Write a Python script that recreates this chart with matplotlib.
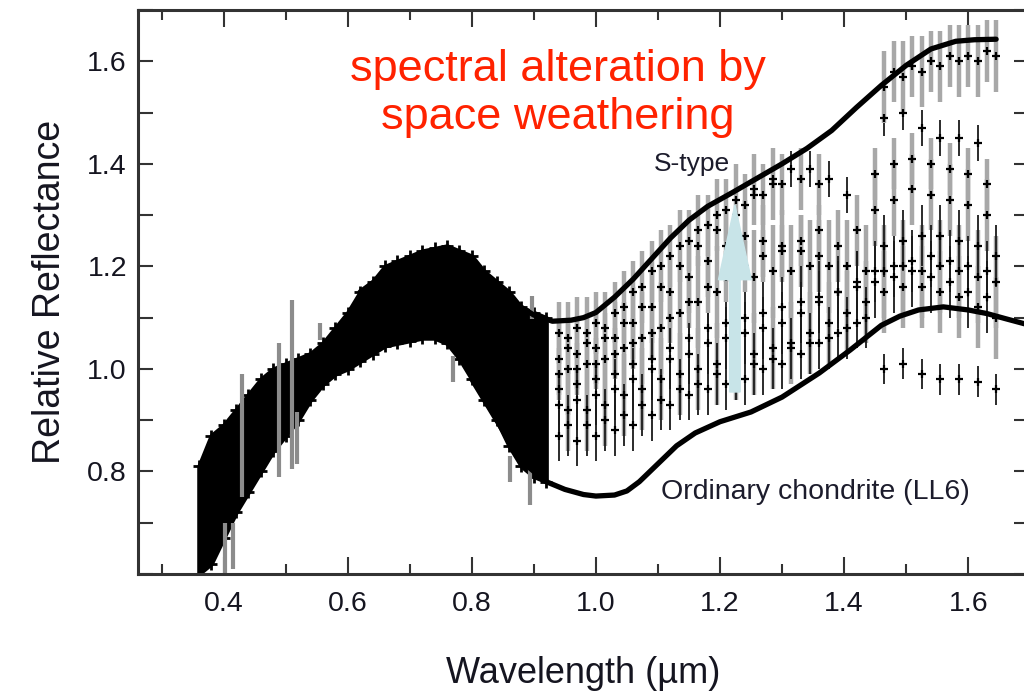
import numpy as np
import matplotlib
matplotlib.use("Agg")
import matplotlib.pyplot as plt
from matplotlib.ticker import MultipleLocator

plt.rcParams['font.family'] = ['Liberation Sans', 'DejaVu Sans']

nan = np.nan

# visible band: lower / upper edge of the dense cloud of points
w_vis = [0.36, 0.38, 0.40, 0.42, 0.44, 0.46, 0.48, 0.50, 0.52, 0.54, 0.56, 0.58, 0.60, 0.62, 0.64,
         0.66, 0.68, 0.70, 0.72, 0.74, 0.76, 0.78, 0.80, 0.82, 0.84, 0.86, 0.88, 0.90, 0.92]
vis_hi = [0.81, 0.87, 0.89, 0.92, 0.95, 0.98, 1.00, 1.01, 1.02, 1.03, 1.05, 1.08, 1.11, 1.15, 1.17,
          1.20, 1.21, 1.22, 1.23, 1.235, 1.24, 1.23, 1.22, 1.19, 1.17, 1.15, 1.12, 1.11, 1.10]
vis_lo = [0.60, 0.62, 0.67, 0.72, 0.76, 0.80, 0.84, 0.87, 0.90, 0.94, 0.97, 0.99, 1.00, 1.015, 1.03,
          1.045, 1.05, 1.055, 1.06, 1.06, 1.05, 1.02, 0.98, 0.94, 0.90, 0.85, 0.81, 0.79, 0.78]

# isolated noisy points sticking out of the visible band
spike_w = [0.402, 0.415, 0.43, 0.49, 0.511, 0.518, 0.555, 0.77, 0.861, 0.894, 0.897]
spike_y = [0.65, 0.655, 0.87, 0.92, 0.97, 0.865, 1.073, 1.00, 0.805, 0.77, 1.12]
spike_e = [0.05, 0.045, 0.12, 0.13, 0.165, 0.05, 0.017, 0.025, 0.025, 0.035, 0.022]

# near-infrared spectra (two interleaved wavelength grids)
w_a = [0.94, 0.97, 1.00, 1.03, 1.06, 1.09, 1.12, 1.15, 1.18, 1.21, 1.24, 1.27,
       1.30, 1.33, 1.36, 1.39, 1.42, 1.45, 1.48, 1.51, 1.54, 1.57, 1.60, 1.63]
w_b = [0.955, 0.985, 1.015, 1.045, 1.075, 1.105, 1.135, 1.165, 1.195, 1.225, 1.255, 1.285,
       1.315, 1.345, 1.375, 1.405, 1.435, 1.465, 1.495, 1.525, 1.555, 1.585, 1.615, 1.645]

sp1 = [1.07, 1.08, 1.09, 1.11, 1.15, 1.19, 1.22, 1.25, 1.28, 1.31, 1.32, 1.34,
       1.36, 1.37, 1.36, nan, nan, nan, 1.58, 1.59, 1.60, 1.61, 1.61, 1.62]
sp2 = [1.04, 1.05, 1.06, 1.09, 1.12, 1.16, 1.20, 1.24, 1.27, 1.30, 1.34, 1.37,
       1.39, 1.39, 1.37, 1.34, nan, 1.49, 1.50, 1.47, 1.45, 1.45, 1.44, nan]
sp3 = [1.02, 1.03, 1.04, 1.06, 1.09, 1.12, 1.15, 1.18, 1.21, 1.24, 1.26, 1.25,
       1.24, 1.23, 1.22, 1.24, 1.27, 1.31, 1.33, 1.35, 1.34, 1.33, 1.32, 1.30]
sp4 = [1.00, 1.01, 1.02, 1.04, 1.06, 1.08, 1.11, 1.13, 1.15, 1.17, 1.18, 1.19,
       1.19, 1.20, 1.20, 1.20, 1.19, 1.19, 1.20, 1.19, 1.20, 1.19, 1.18, 1.17]
sp5 = [0.96, 0.97, 0.98, 0.99, 1.01, 1.02, 1.04, 1.06, 1.08, 1.09, 1.10, 1.11,
       1.12, 1.13, 1.14, 1.15, 1.16, 1.17, 1.18, 1.19, 1.18, 1.17, 1.15, 1.14]
sp6 = [0.92, 0.92, 0.93, 0.95, 0.96, 0.98, 0.99, 1.00, 1.01, 1.02, 1.03, 1.04,
       1.05, 1.07, 1.09, 1.11, 1.13, 1.15, 1.16, 1.16, 1.15, 1.14, 1.12, 1.10]
sp7 = [0.87, 0.86, 0.87, 0.88, 0.89, 0.91, 0.93, 0.95, 0.96, 0.97, 0.98, 1.00,
       1.01, 1.03, 1.05, 1.07, 1.09, nan, nan, nan, nan, nan, nan, nan]
sp8 = [nan, nan, nan, nan, nan, nan, nan, nan, nan, nan, nan, nan,
       nan, nan, nan, nan, nan, 1.00, 1.01, 0.99, 0.98, 0.98, 0.975, 0.96]
sp9 = [0.99, 1.00, 1.01, 1.03, 1.05, 1.07, 1.10, 1.13, 1.16, 1.18, 1.20, 1.22,
       1.23, 1.25, 1.27, nan, nan, 1.38, 1.40, 1.41, 1.40, 1.39, 1.38, 1.36]
sp10 = [0.89, 0.89, 0.90, 0.91, 0.93, 0.94, 0.96, 0.97, 0.99, 1.00, 1.01, 1.02,
        1.04, 1.05, 1.06, 1.08, 1.10, 1.24, 1.25, 1.26, 1.26, 1.25, 1.24, 1.22]
sp11 = [1.06, 1.07, 1.08, 1.12, 1.16, 1.20, 1.24, 1.27, 1.30, 1.33, 1.35, 1.36,
        nan, nan, nan, nan, nan, 1.55, 1.57, 1.58, 1.59, 1.60, 1.60, 1.61]
sp12 = [0.93, 0.94, 0.95, 0.96, 0.98, 1.00, 1.02, 1.03, 1.05, 1.06, 1.07, 1.08,
        1.09, 1.11, 1.13, 1.15, 1.17, 1.19, 1.20, 1.21, 1.22, 1.21, 1.20, 1.19]
nir_err = [0.06, 0.035, 0.07, 0.09, 0.07, 0.08, 0.05, 0.03, 0.05, 0.06, 0.07, 0.06]

# reference laboratory / telescopic spectra
s_w = [0.62, 0.66, 0.70, 0.74, 0.78, 0.82, 0.86, 0.90, 0.93, 0.96, 0.98, 1.00, 1.03, 1.06,
       1.09, 1.12, 1.15, 1.18, 1.22, 1.26, 1.30, 1.34, 1.38, 1.42, 1.46, 1.50, 1.54, 1.58, 1.61, 1.645]
s_r = [1.15, 1.185, 1.205, 1.215, 1.205, 1.175, 1.135, 1.105, 1.093, 1.095, 1.10, 1.11, 1.14, 1.175,
       1.215, 1.255, 1.29, 1.317, 1.344, 1.372, 1.40, 1.43, 1.465, 1.51, 1.553, 1.592, 1.624, 1.639, 1.642, 1.643]

oc_w = [0.80, 0.83, 0.86, 0.89, 0.92, 0.95, 0.98, 1.00, 1.03, 1.05, 1.07, 1.10, 1.13, 1.16, 1.20,
        1.25, 1.30, 1.36, 1.41, 1.46, 1.49, 1.52, 1.56, 1.60, 1.63, 1.66, 1.70]
oc_r = [0.98, 0.92, 0.86, 0.81, 0.78, 0.765, 0.755, 0.752, 0.754, 0.762, 0.78, 0.815, 0.85, 0.875, 0.897,
        0.916, 0.945, 0.992, 1.037, 1.085, 1.103, 1.115, 1.121, 1.115, 1.108, 1.098, 1.085]

fig = plt.figure(figsize=(10.24, 6.92), dpi=100)
ax = fig.add_axes([138 / 1024, 1 - 574 / 692, 891 / 1024, 564 / 692])

ax.fill_between(w_vis, vis_lo, vis_hi, color='black', lw=3, zorder=2)
ax.plot(w_vis, vis_hi, '+', color='black', ms=9, mew=2, zorder=2)
ax.plot(w_vis, vis_lo, '+', color='black', ms=9, mew=2, zorder=2)
ax.errorbar(spike_w, spike_y, yerr=spike_e, fmt='none', ecolor='#8c8c8c', elinewidth=3, zorder=2)

spectra = [(w_a, sp1), (w_b, sp2), (w_a, sp3), (w_b, sp4), (w_a, sp5), (w_b, sp6),
           (w_a, sp7), (w_b, sp8), (w_a, sp9), (w_b, sp10), (w_b, sp11), (w_a, sp12)]
for i, (w, r) in enumerate(spectra):
    if i in (1, 4, 6, 7, 9, 11):
        ec, elw = '#1a1a1a', 1.3
    else:
        ec, elw = '#a8a8a8', 3.2
    ax.errorbar(w, r, yerr=nir_err[i], fmt='+', color='black', ms=6, mew=1.6,
                ecolor=ec, elinewidth=elw, capsize=0, zorder=3)

ax.plot(s_w, s_r, color='black', lw=3.8, solid_capstyle='round', zorder=4)
ax.plot(oc_w, oc_r, color='black', lw=3.8, solid_capstyle='round', zorder=4)

ax.arrow(1.224, 0.955, 0, 0.365, width=0.017, head_width=0.053, head_length=0.146,
         length_includes_head=True, color='#c8e4e8', zorder=5)

ax.text(0.939, 1.537, 'spectral alteration by\nspace weathering', ha='center', va='center',
        color='#ff2200', fontsize=32.5, linespacing=1.22, zorder=6)
ax.text(1.155, 1.40, 'S-type', ha='center', va='center', color='#1c1c2c', fontsize=19, zorder=6)
ax.text(1.353, 0.76, 'Ordinary chondrite (LL6)', ha='center', va='center', color='#1c1c2c',
        fontsize=20.5, zorder=6)

ax.set_xlim(0.262, 1.698)
ax.set_ylim(0.6, 1.70)
ax.xaxis.set_minor_locator(MultipleLocator(0.1))
ax.yaxis.set_minor_locator(MultipleLocator(0.1))
ax.set_xticks([0.4, 0.6, 0.8, 1.0, 1.2, 1.4, 1.6])
ax.set_yticks([0.8, 1.0, 1.2, 1.4, 1.6])
ax.tick_params(which='both', direction='in', top=True, right=True, width=1.5, colors='#333333',
               labelcolor='#151520', labelsize=20.5)
ax.tick_params(axis='x', which='major', length=12, pad=12)
ax.tick_params(axis='x', which='minor', length=7)
ax.tick_params(axis='y', which='both', length=11, pad=8)
for s in ax.spines.values():
    s.set_linewidth(2.2)
    s.set_color('#333333')

ax.set_xlabel('Wavelength (µm)', fontsize=26, color='#151520', labelpad=28)
ax.set_ylabel('Relative Reflectance', fontsize=27, color='#151520', labelpad=14)

fig.savefig('out.png', dpi=100)
